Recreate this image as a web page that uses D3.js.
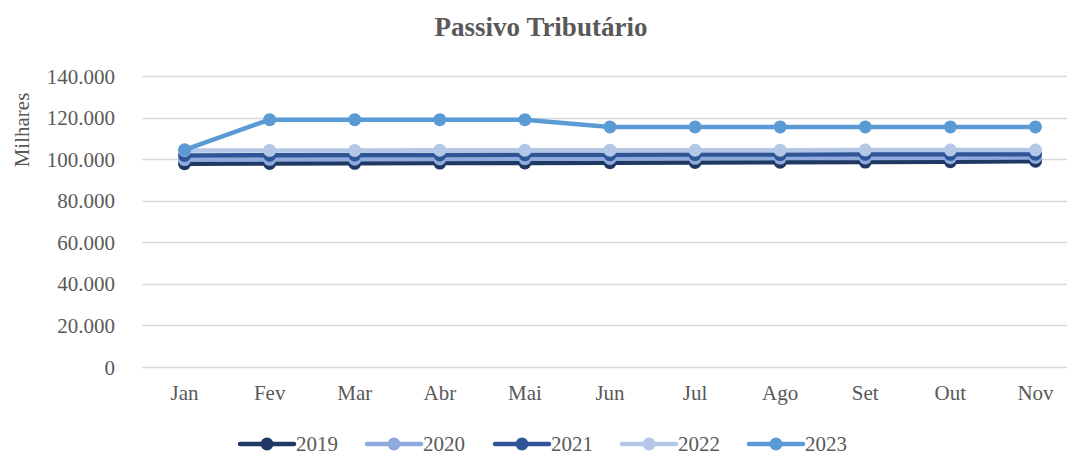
<html>
<head>
<script src="https://d3js.org/d3.v7.min.js"></script>
<style>
  body { margin: 0; background: #fff; }
  text { font-family: "Liberation Serif", "DejaVu Serif", serif; fill: #595959; }
</style>
</head>
<body>
<script>
  var months = ["Jan", "Fev", "Mar", "Abr", "Mai", "Jun", "Jul", "Ago", "Set", "Out", "Nov"];
  var years = ["2019", "2020", "2021", "2022", "2023"];
  var v2019 = [97800, 97900, 98000, 98100, 98200, 98300, 98400, 98500, 98600, 98800, 99000];
  var v2020 = [99800, 99900, 100000, 100100, 100200, 100300, 100400, 100500, 100600, 100700, 100800];
  var v2021 = [101800, 101900, 102000, 102000, 102100, 102100, 102200, 102200, 102300, 102300, 102400];
  var v2022 = [104200, 104200, 104200, 104300, 104300, 104300, 104300, 104300, 104400, 104400, 104400];
  var v2023 = [104500, 119000, 119000, 119000, 119000, 115500, 115500, 115500, 115500, 115500, 115500];
  var seriesValues = [v2019, v2020, v2021, v2022, v2023];
  var colors = ["#203864", "#8FAADC", "#2F5597", "#B4C7E7", "#5B9BD5"];
  var yTicks = [0, 20000, 40000, 60000, 80000, 100000, 120000, 140000];

  var width = 1067, height = 455;
  var plotLeft = 142, plotRight = 1078, plotTop = 76, plotBottom = 367;

  var svg = d3.select("body").append("svg")
    .attr("width", width)
    .attr("height", height);

  var x = d3.scaleBand().domain(months).range([plotLeft, plotRight]);
  var y = d3.scaleLinear().domain([0, 140000]).range([plotBottom, plotTop]);
  var fmt = function(d){ return d === 0 ? "0" : d3.format(",")(d).replace(/,/g, "."); };

  // gridlines
  svg.append("g").selectAll("line")
    .data(yTicks)
    .enter().append("line")
      .attr("x1", plotLeft).attr("x2", plotRight)
      .attr("y1", function(d){ return Math.round(y(d)) + 0.5; })
      .attr("y2", function(d){ return Math.round(y(d)) + 0.5; })
      .attr("stroke", "#D9D9D9")
      .attr("stroke-width", 1.3);

  // y axis labels
  var yAxis = d3.axisLeft(y).tickValues(yTicks).tickFormat(fmt).tickSize(0).tickPadding(0);
  var gy = svg.append("g").attr("transform", "translate(115,0)").call(yAxis);
  gy.select(".domain").remove();
  gy.selectAll("text").style("font-size", "21px").attr("fill", "#595959")
    .style("font-family", "Liberation Serif").attr("dy", "0.34em");

  // x axis labels
  var xAxis = d3.axisBottom(x).tickSize(0).tickPadding(0);
  var gx = svg.append("g").attr("transform", "translate(0," + (plotBottom + 18) + ")").call(xAxis);
  gx.select(".domain").remove();
  gx.selectAll("text").style("font-size", "21px").attr("fill", "#595959")
    .style("font-family", "Liberation Serif");

  // title
  svg.append("text")
    .attr("x", 541).attr("y", 36)
    .attr("text-anchor", "middle")
    .style("font-size", "27px").style("font-weight", "bold")
    .text("Passivo Tributário");

  // units label
  svg.append("text")
    .attr("transform", "translate(29,130) rotate(-90)")
    .attr("text-anchor", "middle")
    .style("font-size", "21px")
    .text("Milhares");

  var line = d3.line()
    .x(function(d, i){ return x(months[i]) + x.bandwidth() / 2; })
    .y(function(d){ return y(d); });

  seriesValues.forEach(function(vals, k){
    var g = svg.append("g");
    g.append("path")
      .datum(vals)
      .attr("d", line)
      .attr("fill", "none")
      .attr("stroke", colors[k])
      .attr("stroke-width", 4.5)
      .attr("stroke-linejoin", "round");
    g.selectAll("circle")
      .data(vals)
      .enter().append("circle")
        .attr("cx", function(d, i){ return x(months[i]) + x.bandwidth() / 2; })
        .attr("cy", function(d){ return y(d); })
        .attr("r", 6.5)
        .attr("fill", colors[k]);
  });

  // legend
  var legendX = [240, 367, 495, 622, 749];
  var lg = svg.append("g").selectAll("g")
    .data(years)
    .enter().append("g")
      .attr("transform", function(d, i){ return "translate(" + legendX[i] + ",444)"; });
  lg.append("line")
    .attr("x1", 0).attr("x2", 54)
    .attr("stroke", function(d, i){ return colors[i]; })
    .attr("stroke-width", 4.5)
    .attr("stroke-linecap", "round");
  lg.append("circle")
    .attr("cx", 27).attr("r", 6.5)
    .attr("fill", function(d, i){ return colors[i]; });
  lg.append("text")
    .attr("x", 56).attr("y", 7)
    .style("font-size", "21px")
    .text(function(d){ return d; });
</script>
</body>
</html>
